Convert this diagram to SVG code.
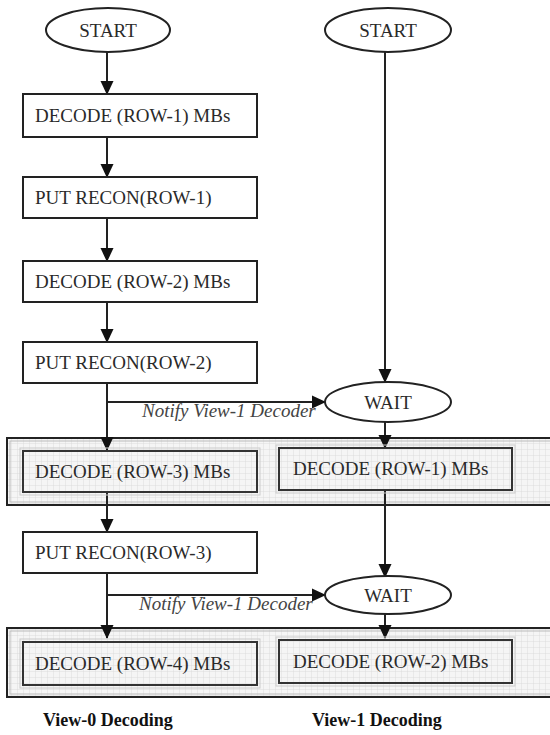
<svg xmlns="http://www.w3.org/2000/svg" width="550" height="735" viewBox="0 0 550 735">
<style>
.node{fill:#fff;stroke:#222;stroke-width:2}
.ell{fill:#fff;stroke:#222;stroke-width:2}
.inner{fill:none;stroke:#333;stroke-width:2}
.panel{stroke:#222;stroke-width:2}
.t{font-family:"Liberation Serif",serif;font-size:19px;fill:#2a2a2a}
.c{text-anchor:middle}
.it{font-family:"Liberation Serif",serif;font-size:19px;font-style:italic;fill:#444}
.b{font-family:"Liberation Serif",serif;font-size:18px;font-weight:bold;fill:#111}
.ln{stroke:#222;stroke-width:2;fill:none}
</style>
<defs>
<pattern id="grid" width="6" height="6" patternUnits="userSpaceOnUse">
<rect width="6" height="6" fill="#f5f5f5"/>
<path d="M6 0V6M0 6H6" stroke="#d6d6d6" stroke-width="0.8" fill="none"/>
</pattern>
<marker id="ar" markerWidth="14" markerHeight="14" refX="13" refY="7" orient="auto" markerUnits="userSpaceOnUse">
<path d="M0 0.5L14 7L0 13.5Z" fill="#111"/>
</marker>
</defs>
<rect width="550" height="735" fill="#fff"/>
<g id="panel1">
<rect class="panel" x="7" y="438" width="550" height="67" fill="url(#grid)"/>
<rect x="10" y="441" width="545" height="61" fill="none" stroke="#bbb" stroke-width="1"/>
</g>
<g id="panel2">
<rect class="panel" x="7" y="628" width="550" height="69" fill="url(#grid)"/>
<rect x="10" y="631" width="545" height="63" fill="none" stroke="#bbb" stroke-width="1"/>
</g>
<g id="connectors">
<line class="ln" x1="107" y1="52" x2="107" y2="94" marker-end="url(#ar)"/>
<line class="ln" x1="107" y1="137" x2="107" y2="177" marker-end="url(#ar)"/>
<line class="ln" x1="107" y1="218" x2="107" y2="261" marker-end="url(#ar)"/>
<line class="ln" x1="107" y1="302" x2="107" y2="342" marker-end="url(#ar)"/>
<line class="ln" x1="107" y1="383" x2="107" y2="450" marker-end="url(#ar)"/>
<line class="ln" x1="107" y1="402" x2="325" y2="402" marker-end="url(#ar)"/>
<line class="ln" x1="385" y1="52" x2="385" y2="382" marker-end="url(#ar)"/>
<line class="ln" x1="385" y1="422" x2="385" y2="448" marker-end="url(#ar)"/>
<line class="ln" x1="107" y1="492" x2="107" y2="532" marker-end="url(#ar)"/>
<line class="ln" x1="385" y1="490" x2="385" y2="577" marker-end="url(#ar)"/>
<line class="ln" x1="107" y1="573" x2="107" y2="638" marker-end="url(#ar)"/>
<line class="ln" x1="107" y1="595" x2="325" y2="595" marker-end="url(#ar)"/>
<line class="ln" x1="385" y1="613" x2="385" y2="638" marker-end="url(#ar)"/>
<text class="it" x="142" y="417">Notify View-1 Decoder</text>
<text class="it" x="139" y="610">Notify View-1 Decoder</text>
</g>
<g id="start0">
<ellipse class="ell" cx="108" cy="30" rx="62" ry="22"/>
<text class="t c" x="108" y="37">START</text>
</g>
<g id="start1">
<ellipse class="ell" cx="388" cy="30" rx="63" ry="22"/>
<text class="t c" x="388" y="37">START</text>
</g>
<g id="dec0r1">
<rect class="node" x="23" y="94" width="234" height="43"/>
<text class="t" x="35" y="122">DECODE (ROW-1) MBs</text>
</g>
<g id="put0r1">
<rect class="node" x="23" y="177" width="234" height="41"/>
<text class="t" x="35" y="204">PUT RECON(ROW-1)</text>
</g>
<g id="dec0r2">
<rect class="node" x="23" y="261" width="234" height="41"/>
<text class="t" x="35" y="288">DECODE (ROW-2) MBs</text>
</g>
<g id="put0r2">
<rect class="node" x="23" y="342" width="234" height="41"/>
<text class="t" x="35" y="369">PUT RECON(ROW-2)</text>
</g>
<g id="wait1">
<ellipse class="ell" cx="388" cy="402" rx="63" ry="20"/>
<text class="t c" x="388" y="409">WAIT</text>
</g>
<g id="dec0r3">
<rect x="20" y="448" width="240" height="47" fill="none" stroke="#ccc" stroke-width="1"/>
<rect class="inner" x="23" y="451" width="234" height="41"/>
<text class="t" x="35" y="478">DECODE (ROW-3) MBs</text>
</g>
<g id="dec1r1">
<rect x="276" y="445" width="239" height="48" fill="none" stroke="#ccc" stroke-width="1"/>
<rect class="inner" x="279" y="448" width="233" height="42"/>
<text class="t" x="293" y="475">DECODE (ROW-1) MBs</text>
</g>
<g id="put0r3">
<rect class="node" x="23" y="532" width="234" height="41"/>
<text class="t" x="35" y="559">PUT RECON(ROW-3)</text>
</g>
<g id="wait2">
<ellipse class="ell" cx="388" cy="595" rx="63" ry="19"/>
<text class="t c" x="388" y="602">WAIT</text>
</g>
<g id="dec0r4">
<rect x="20" y="639" width="240" height="49" fill="none" stroke="#ccc" stroke-width="1"/>
<rect class="inner" x="23" y="642" width="234" height="43"/>
<text class="t" x="35" y="670">DECODE (ROW-4) MBs</text>
</g>
<g id="dec1r2">
<rect x="276" y="637" width="239" height="49" fill="none" stroke="#ccc" stroke-width="1"/>
<rect class="inner" x="279" y="640" width="233" height="43"/>
<text class="t" x="293" y="668">DECODE (ROW-2) MBs</text>
</g>
<g id="labels">
<text class="b" x="43" y="726">View-0 Decoding</text>
<text class="b" x="312" y="726">View-1 Decoding</text>
</g>
</svg>
